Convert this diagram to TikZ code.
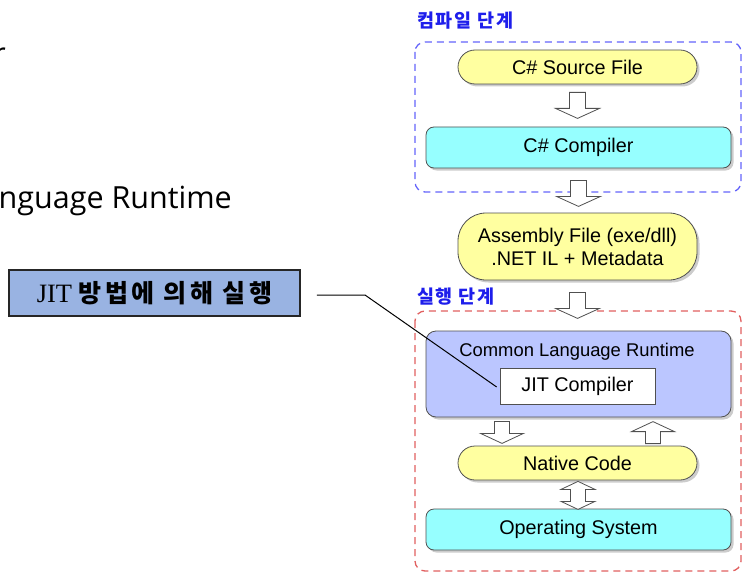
\documentclass[tikz,border=0pt]{standalone}
\usepackage{fontspec}
\setmainfont{Liberation Sans}
\newfontfamily\kr{Noto Sans CJK KR}
\newfontfamily\serifjit{Liberation Serif}
\newfontfamily\slidefont{Open Sans}
\usetikzlibrary{shadows,calc}
\definecolor{pillyellow}{RGB}{255,255,160}
\definecolor{boxcyan}{RGB}{150,255,255}
\definecolor{clrblue}{RGB}{187,198,255}
\definecolor{callblue}{RGB}{153,179,226}
\definecolor{dashblue}{RGB}{100,100,250}
\definecolor{dashred}{RGB}{225,95,95}
\definecolor{labelblue}{RGB}{30,30,235}
\definecolor{edgegray}{RGB}{80,80,80}
\tikzset{
  shd/.style={drop shadow={shadow xshift=2.5pt,shadow yshift=-2.5pt,opacity=0.4,fill=gray}},
  boxfont/.style={font=\fontsize{19.8}{23}\selectfont},
  pill/.style={draw=edgegray,line width=0.8pt,fill=pillyellow,minimum width=239pt,shd,boxfont,align=center,inner sep=0pt},
  cbox/.style={draw=edgegray,line width=0.8pt,fill=boxcyan,minimum width=305pt,minimum height=41pt,rounded corners=8pt,shd,boxfont,inner sep=0pt},
  stage/.style={font=\kr\bfseries\fontsize{18.5}{20}\selectfont\addfontfeature{LetterSpace=9},text=labelblue,anchor=west,inner sep=0pt},
  blockarr/.style={draw=edgegray,fill=white,line width=0.8pt,line join=miter},
  downarr/.pic={\draw[blockarr] (-8,0) -- (-8,16) -- (-22,16) -- (0,26) -- (22,16) -- (8,16) -- (8,0) -- cycle;},
  downarrs/.pic={\draw[blockarr] (-7.5,0) -- (-7.5,12) -- (-21.5,12) -- (0,22) -- (21.5,12) -- (7.5,12) -- (7.5,0) -- cycle;},
  uparrs/.pic={\draw[blockarr] (-7.5,0) -- (-7.5,-12) -- (-21.5,-12) -- (0,-22) -- (21.5,-12) -- (7.5,-12) -- (7.5,0) -- cycle;},
  dblarr/.pic={\draw[blockarr] (0,0) -- (17,8) -- (7.5,8) -- (7.5,20) -- (17,20) -- (0,28) -- (-17,20) -- (-7.5,20) -- (-7.5,8) -- (-17,8) -- cycle;}
}
\begin{document}
\begin{tikzpicture}[x=1pt,y=-1pt]
\useasboundingbox (0,0) rectangle (751,580);
% cut-off slide text
\node[font=\slidefont\fontsize{30.5}{32}\selectfont,anchor=base east,inner sep=0pt] (sr) at (6,65) {r};
\node[font=\slidefont\fontsize{30.5}{32}\selectfont,anchor=base west,inner sep=0pt] (slang) at (-1.5,208) {nguage Runtime};
% containers
\draw[dashblue,dashed,dash pattern=on 7pt off 5pt,line width=1.3pt,rounded corners=10pt] (415,42) rectangle (741,192);
\draw[dashred,dashed,dash pattern=on 7pt off 5pt,line width=1.3pt,rounded corners=10pt] (415,311) rectangle (741,571);
\node[stage] (lab1) at (417,21) {컴파일 단계};
\node[stage] (lab2) at (417,297) {실행 단계};
% nodes
\node[pill,minimum height=34pt,rounded corners=17pt] (src) at (577.5,67) {C\# Source File};
\node[cbox] (comp) at (578.5,147.5) {C\# Compiler};
\node[pill,minimum height=67pt,rounded corners=28pt] (asm) at (577.5,246.5) {Assembly File (exe/dll)\\.NET IL + Metadata};
\node[draw=edgegray,line width=0.8pt,fill=clrblue,minimum width=305pt,minimum height=86pt,rounded corners=10pt,shd] (clr) at (578.5,374) {};
\node[font=\fontsize{18.4}{21}\selectfont,inner sep=0pt] (clrt) at (577,352) {Common Language Runtime};
\node[draw=edgegray,line width=0.7pt,fill=white,minimum width=155pt,minimum height=36pt,inner sep=0pt,boxfont] (jit) at (577.5,386) {JIT Compiler};
\node[pill,minimum height=34pt,rounded corners=17pt] (nat) at (577.5,463) {Native Code};
\node[cbox] (os) at (578.5,529.5) {Operating System};
% callout
\node[draw=black!85,line width=1.6pt,fill=callblue,minimum width=291pt,minimum height=46pt,inner sep=0pt] (call) at (154.5,293) {\serifjit\fontsize{26.5}{28}\selectfont JIT \kr\bfseries\fontsize{25}{28}\selectfont\addfontfeature{LetterSpace=14}방법에 의해 실행};
\coordinate (bend) at (365,295);
\draw[line width=1pt] ($(call.east)+(16,2)$) -- (bend) -- ($(jit.west)+(-3,1)$);
% block arrows
\pic at ($(src.south)+(0,8)$) {downarr};
\pic at ($(comp.south)+(0,12)$) {downarr};
\pic at ($(asm.south)+(0,12)$) {downarr};
\pic at ($(clr.south)+(-76.5,4)$) {downarrs};
\pic at ($(nat.north)+(75.5,-2)$) {uparrs};
\pic at ($(nat.south)+(0.5,1)$) {dblarr};
\end{tikzpicture}
\end{document}
